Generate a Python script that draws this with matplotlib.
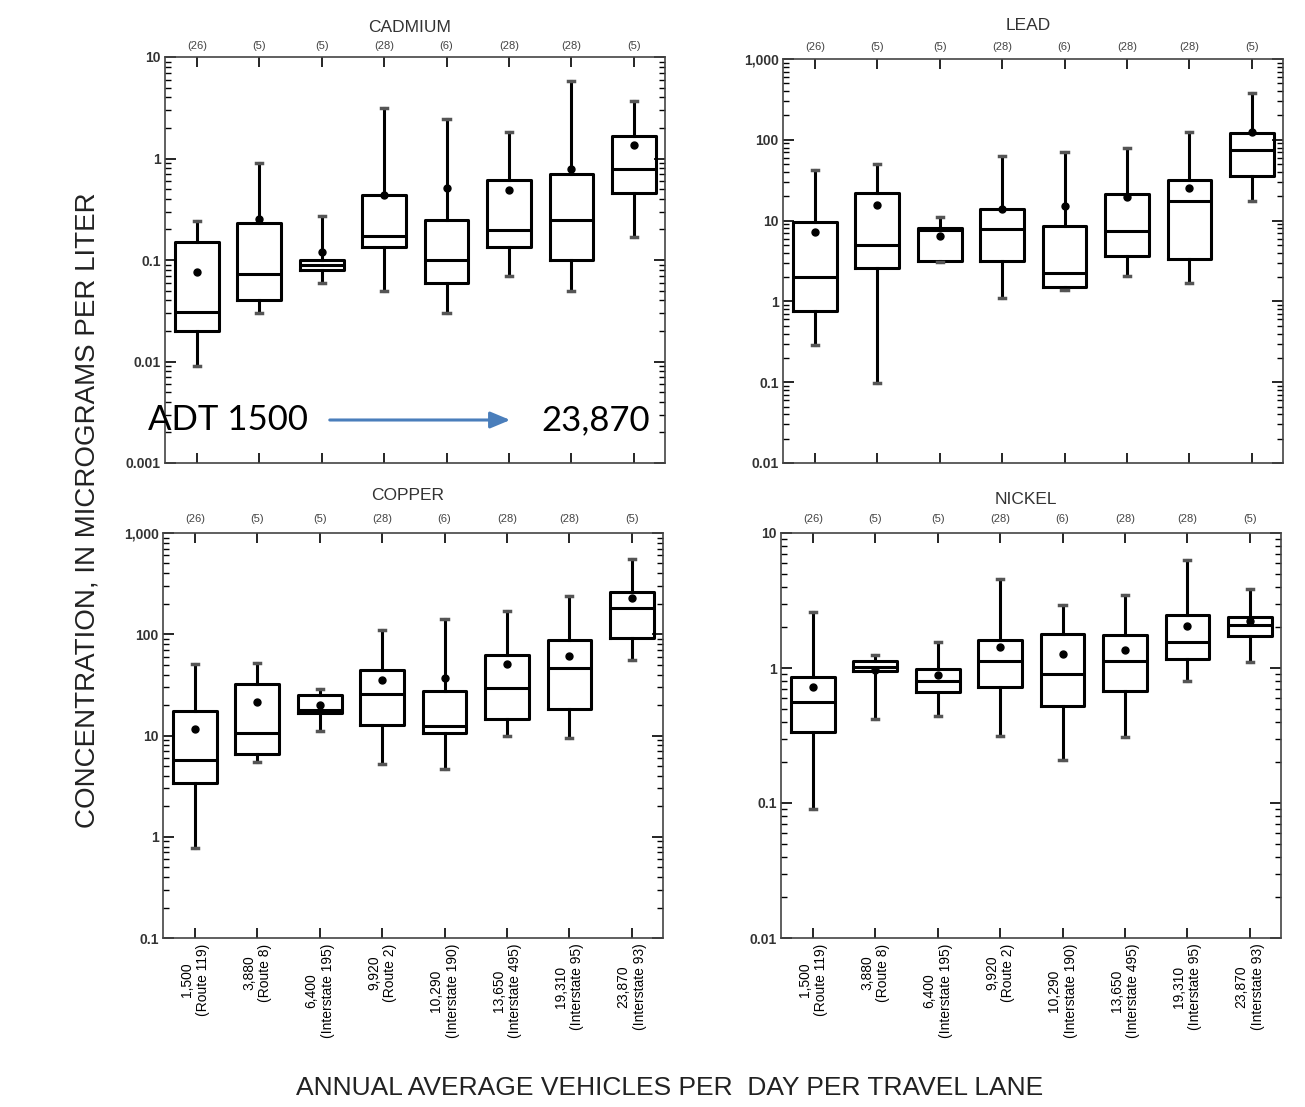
import matplotlib
matplotlib.use('Agg')
import matplotlib.pyplot as plt
from matplotlib.ticker import LogLocator, NullFormatter

plt.rcParams['font.family'] = ['Liberation Sans Narrow', 'Liberation Sans', 'DejaVu Sans']

# sites, ordered by traffic
traffic_labels = ['1,500\n(Route 119)', '3,880\n(Route 8)', '6,400\n(Interstate 195)',
                  '9,920\n(Route 2)', '10,290\n(Interstate 190)', '13,650\n(Interstate 495)',
                  '19,310\n(Interstate 95)', '23,870\n(Interstate 93)']
sample_counts = ['(26)', '(5)', '(5)', '(28)', '(6)', '(28)', '(28)', '(5)']

# box statistics per metal: whisker low, Q1, median, Q3, whisker high, mean
cd_low = [0.009, 0.030, 0.060, 0.050, 0.030, 0.070, 0.050, 0.17]
cd_q1 = [0.020, 0.040, 0.080, 0.133, 0.060, 0.133, 0.100, 0.456]
cd_med = [0.0306, 0.072, 0.089, 0.171, 0.100, 0.199, 0.249, 0.785]
cd_q3 = [0.151, 0.234, 0.100, 0.440, 0.249, 0.617, 0.707, 1.67]
cd_high = [0.244, 0.90, 0.273, 3.13, 2.47, 1.83, 5.8, 3.69]
cd_mean = [0.0757, 0.253, 0.12, 0.44, 0.507, 0.49, 0.785, 1.35]

pb_low = [0.29, 0.098, 3.07, 1.09, 1.37, 2.08, 1.69, 17.7]
pb_q1 = [0.77, 2.59, 3.19, 3.19, 1.49, 3.6, 3.35, 36]
pb_med = [2.0, 5.0, 7.6, 7.9, 2.25, 7.4, 17.5, 75]
pb_q3 = [9.7, 22, 8.2, 14, 8.6, 21.6, 31.6, 120]
pb_high = [41.7, 50, 11, 62.8, 70, 79, 124, 383]
pb_mean = [7.2, 15.8, 6.5, 14, 15, 19.5, 25.6, 125]

cu_low = [0.78, 5.45, 11, 5.2, 4.7, 9.8, 9.4, 56]
cu_q1 = [3.39, 6.6, 16.6, 12.8, 10.6, 14.4, 18.3, 91]
cu_med = [5.7, 10.6, 18, 25.8, 12.4, 29.3, 46, 182]
cu_q3 = [17.3, 32.4, 25.2, 44.5, 27.2, 63, 88, 264]
cu_high = [51, 52, 28.5, 110, 142, 169, 241, 553]
cu_mean = [11.5, 21.3, 19.8, 35.4, 37, 50.6, 61.5, 228]

ni_low = [0.09, 0.42, 0.44, 0.316, 0.21, 0.31, 0.80, 1.11]
ni_q1 = [0.335, 0.945, 0.664, 0.72, 0.519, 0.68, 1.16, 1.73]
ni_med = [0.56, 1.01, 0.805, 1.12, 0.897, 1.12, 1.56, 2.1]
ni_q3 = [0.857, 1.12, 0.99, 1.62, 1.8, 1.75, 2.46, 2.39]
ni_high = [2.58, 1.24, 1.56, 4.53, 2.92, 3.46, 6.34, 3.82]
ni_mean = [0.718, 0.97, 0.88, 1.42, 1.26, 1.35, 2.04, 2.22]

cd_ticks = [0.001, 0.01, 0.1, 1, 10]
cd_ticklabels = ['0.001', '0.01', '0.1', '1', '10']
pb_ticks = [0.01, 0.1, 1, 10, 100, 1000]
pb_ticklabels = ['0.01', '0.1', '1', '10', '100', '1,000']
cu_ticks = [0.1, 1, 10, 100, 1000]
cu_ticklabels = ['0.1', '1', '10', '100', '1,000']
ni_ticks = [0.01, 0.1, 1, 10]
ni_ticklabels = ['0.01', '0.1', '1', '10']


def make_stats(low, q1, med, q3, high, mean):
    stats = []
    for i in range(len(med)):
        stats.append({'whislo': low[i], 'q1': q1[i], 'med': med[i], 'q3': q3[i],
                      'whishi': high[i], 'mean': mean[i], 'fliers': []})
    return stats


fig = plt.figure(figsize=(13.05, 11.07), dpi=100)

# title, stats, ticks, tick labels, [left, top, width, height] in px, bottom labels,
# title gap and count gap in px
panels = [
    ('CADMIUM', make_stats(cd_low, cd_q1, cd_med, cd_q3, cd_high, cd_mean), cd_ticks, cd_ticklabels,
     [165, 57, 500, 406], False, 33, 6),
    ('LEAD', make_stats(pb_low, pb_q1, pb_med, pb_q3, pb_high, pb_mean), pb_ticks, pb_ticklabels,
     [783, 59, 500, 404], False, 36, 7),
    ('COPPER', make_stats(cu_low, cu_q1, cu_med, cu_q3, cu_high, cu_mean), cu_ticks, cu_ticklabels,
     [163, 533, 500, 405], True, 41, 9),
    ('NICKEL', make_stats(ni_low, ni_q1, ni_med, ni_q3, ni_high, ni_mean), ni_ticks, ni_ticklabels,
     [781, 533, 500, 405], True, 37, 9),
]

W, H = 1305.0, 1107.0
positions = list(range(1, len(sample_counts) + 1))

for title, stats, yt, ytl, (px, py, pw, ph), show_x, title_gap, count_gap in panels:
    ax = fig.add_axes([px / W, 1 - (py + ph) / H, pw / W, ph / H])
    box_line = dict(color='black', linewidth=2.2)
    ax.bxp(stats, positions=positions, widths=0.7, showmeans=True, showfliers=False,
           boxprops=box_line, medianprops=box_line, whiskerprops=box_line,
           capprops=dict(color='#555555', linewidth=2.5), capwidths=0.1,
           meanprops=dict(marker='o', markerfacecolor='black', markeredgecolor='black', markersize=5))
    ax.set_yscale('log')
    ax.set_ylim(yt[0], yt[-1])
    ax.set_xlim(0.49, 8.5)
    ax.set_yticks(yt)
    ax.set_yticklabels(ytl, fontweight='bold')
    ax.yaxis.set_minor_locator(LogLocator(base=10, subs=range(2, 10), numticks=20))
    ax.yaxis.set_minor_formatter(NullFormatter())
    ax.set_xticks(positions)
    if show_x:
        ax.set_xticklabels(traffic_labels, rotation=90, va='top', ha='center',
                           multialignment='center', fontsize=10)
    else:
        ax.set_xticklabels([])
    ax.tick_params(axis='x', which='both', direction='in', top=True, bottom=True, length=7,
                   width=1.2, pad=4)
    ax.tick_params(axis='y', which='major', direction='in', left=True, right=True, length=8,
                   width=1.2, labelsize=10, labelcolor='#333333', pad=3)
    ax.tick_params(axis='y', which='minor', direction='in', left=True, right=True, length=4,
                   width=1.0)
    for sp in ax.spines.values():
        sp.set_linewidth(1.2)
        sp.set_color('#444444')
    for xpos, n in zip(positions, sample_counts):
        ax.annotate(n, xy=(xpos, 1), xycoords=('data', 'axes fraction'),
                    xytext=(0, count_gap * 0.72), textcoords='offset points',
                    ha='center', va='bottom', fontsize=8, color='#444444')
    ax.text(0.49, 1 + (title_gap - 3) / ph, title, transform=ax.transAxes, ha='center',
            va='center', fontsize=12.5, color='#333333')

# annotation on the cadmium panel
fig.text(148 / W, 1 - 420 / H, 'ADT 1500', ha='left', va='center', fontsize=25,
         family=['Lato', 'DejaVu Sans'], color='black')
fig.text(650 / W, 1 - 420 / H, '23,870', ha='right', va='center', fontsize=25,
         family=['Lato', 'DejaVu Sans'], color='black')
fig.patches.append(matplotlib.patches.FancyArrowPatch(
    (327 / W, 1 - 420 / H), (513 / W, 1 - 420 / H), transform=fig.transFigure,
    arrowstyle='-|>,head_length=12,head_width=5', mutation_scale=1, color='#4A7EBB',
    linewidth=2.2))

fig.text(88 / W, 1 - 510 / H, 'CONCENTRATION, IN MICROGRAMS PER LITER', rotation=90,
         ha='center', va='center', fontsize=20, color='#222222')
fig.text(670 / W, 1 - 1088 / H, 'ANNUAL AVERAGE VEHICLES PER  DAY PER TRAVEL LANE',
         ha='center', va='center', fontsize=19, color='#222222')

fig.savefig('out.png', dpi=100)
